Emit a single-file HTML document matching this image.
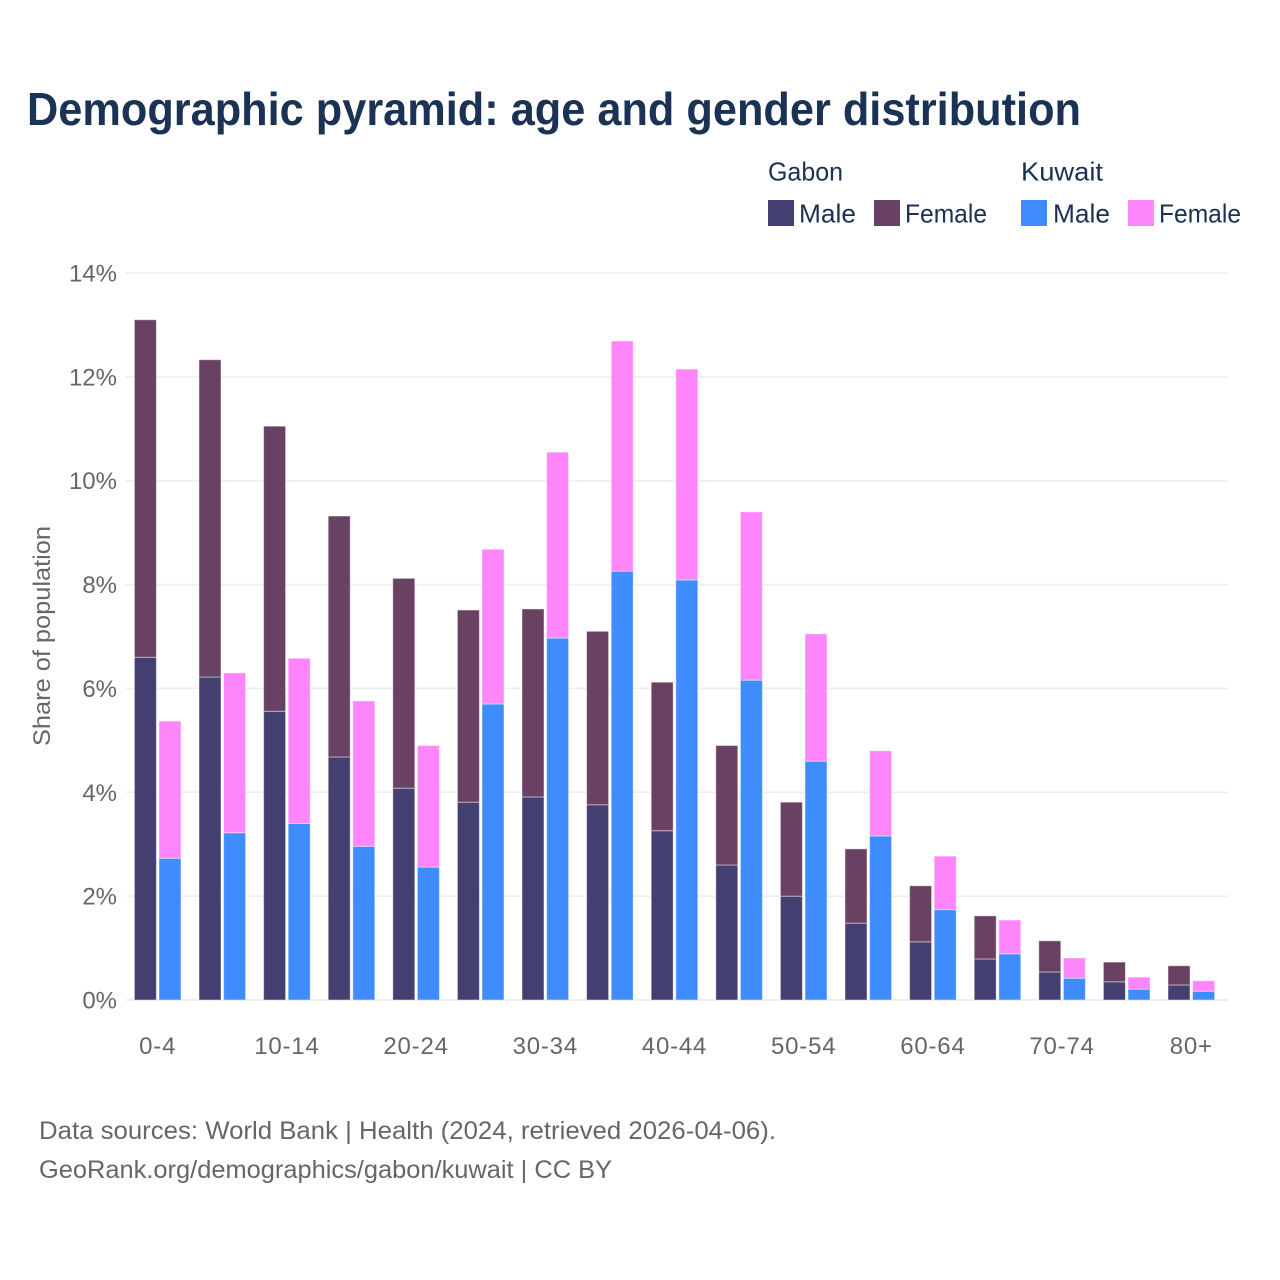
<!DOCTYPE html>
<html lang="en">
<head>
<meta charset="utf-8">
<title>Demographic pyramid: age and gender distribution</title>
<style>
html,body{margin:0;padding:0;background:#fff;}
svg{display:block;font-family:"Liberation Sans",sans-serif;}
</style>
</head>
<body>
<svg id="chart" xmlns="http://www.w3.org/2000/svg" width="1280" height="1280" viewBox="0 0 1280 1280">
  <rect x="0" y="0" width="1280" height="1280" fill="#ffffff"/>
  <text x="27" y="125" font-size="46" font-weight="700" fill="#1a3354" textLength="1054" lengthAdjust="spacingAndGlyphs">Demographic pyramid: age and gender distribution</text>

  <g font-size="26" fill="#1c3152">
    <text x="768" y="180.5" textLength="75" lengthAdjust="spacingAndGlyphs">Gabon</text>
    <text x="1021" y="180.5" textLength="82" lengthAdjust="spacingAndGlyphs">Kuwait</text>
    <rect x="768" y="200" width="26" height="26" fill="#443f71"/>
    <text x="799" y="222.5" textLength="57" lengthAdjust="spacingAndGlyphs">Male</text>
    <rect x="874" y="200" width="26" height="26" fill="#694163"/>
    <text x="905" y="222.5" textLength="82" lengthAdjust="spacingAndGlyphs">Female</text>
    <rect x="1021" y="200" width="26" height="26" fill="#3f8cff"/>
    <text x="1053" y="222.5" textLength="57" lengthAdjust="spacingAndGlyphs">Male</text>
    <rect x="1128" y="200" width="26" height="26" fill="#ff85fb"/>
    <text x="1159" y="222.5" textLength="82" lengthAdjust="spacingAndGlyphs">Female</text>
  </g>

  <g id="grid"></g>
  <g id="bars"></g>
  <g id="y-ticks" font-size="24" fill="#666666" text-anchor="end"></g>
  <g id="x-ticks" font-size="24" fill="#666666" text-anchor="middle" letter-spacing="0.8"></g>

  <text transform="translate(50 746) rotate(-90)" font-size="24" fill="#666666" textLength="220" lengthAdjust="spacingAndGlyphs">Share of population</text>

  <text x="39" y="1139" font-size="25" fill="#666666" textLength="737" lengthAdjust="spacingAndGlyphs">Data sources: World Bank | Health (2024, retrieved 2026-04-06).</text>
  <text x="39" y="1178" font-size="25" fill="#666666" textLength="573" lengthAdjust="spacingAndGlyphs">GeoRank.org/demographics/gabon/kuwait | CC BY</text>
</svg>
<script>
const categories = ["0-4","5-9","10-14","15-19","20-24","25-29","30-34","35-39","40-44","45-49","50-54","55-59","60-64","65-69","70-74","75-79","80+"];
const tickedCategories = ["0-4","10-14","20-24","30-34","40-44","50-54","60-64","70-74","80+"];
const gabonMale = [6.60,6.22,5.56,4.68,4.08,3.81,3.91,3.76,3.26,2.60,2.00,1.48,1.12,0.79,0.54,0.35,0.29];
const gabonFemale = [6.50,6.11,5.49,4.64,4.04,3.70,3.62,3.34,2.86,2.30,1.81,1.43,1.08,0.83,0.60,0.38,0.37];
const kuwaitMale = [2.73,3.22,3.40,2.96,2.56,5.70,6.97,8.26,8.09,6.16,4.60,3.16,1.74,0.89,0.42,0.21,0.17];
const kuwaitFemale = [2.64,3.08,3.18,2.80,2.34,2.98,3.58,4.43,4.06,3.24,2.45,1.64,1.03,0.65,0.39,0.23,0.20];
const yTicks = [0,2,4,6,8,10,12,14];

const SVG_NS = "http://www.w3.org/2000/svg";
const plotLeft = 126, plotRight = 1228, plotBottom = 1000, plotTop = 273;
const yMax = 14;
function yScale(v){ return plotBottom - v * (plotBottom - plotTop) / yMax; }
function xCenter(i){ return 157.7 + i * (1191.3 - 157.7) / (categories.length - 1); }
const barWidth = 22, barGap = 1.3;

const gridG = document.getElementById("grid");
const barsG = document.getElementById("bars");
const yG = document.getElementById("y-ticks");
const xG = document.getElementById("x-ticks");

yTicks.forEach(function(t){
  const line = document.createElementNS(SVG_NS, "line");
  
  
  line.setAttribute("x1", plotLeft);
  line.setAttribute("x2", plotRight);
  line.setAttribute("y1", yScale(t));
  line.setAttribute("y2", yScale(t));
  line.setAttribute("stroke", "#eeeeee");
  line.setAttribute("stroke-width", t === 0 ? 2 : 1.5);
  gridG.appendChild(line);

  const label = document.createElementNS(SVG_NS, "text");
  
  
  label.setAttribute("x", 117);
  label.setAttribute("y", yScale(t) + 8.5);
  label.textContent = t + "%";
  yG.appendChild(label);
});

function drawBar(x, base, value, color, name){
  const r = document.createElementNS(SVG_NS, "rect");
  
  
  const top = yScale(base + value);
  r.setAttribute("x", x);
  r.setAttribute("y", top);
  r.setAttribute("width", barWidth);
  r.setAttribute("height", yScale(base) - top);
  r.setAttribute("fill", color);
  r.setAttribute("stroke", "rgba(255,255,255,0.45)");
  r.setAttribute("stroke-width", 1);
  barsG.appendChild(r);
}

categories.forEach(function(cat, i){
  const c = xCenter(i);
  const xA = c - barGap - barWidth;
  const xB = c + barGap;
  drawBar(xA, 0, gabonMale[i], "#443f71", "bar-gabon-male");
  drawBar(xA, gabonMale[i], gabonFemale[i], "#694163", "bar-gabon-female");
  drawBar(xB, 0, kuwaitMale[i], "#3f8cff", "bar-kuwait-male");
  drawBar(xB, kuwaitMale[i], kuwaitFemale[i], "#ff85fb", "bar-kuwait-female");
  if (tickedCategories.indexOf(cat) !== -1) {
    const label = document.createElementNS(SVG_NS, "text");
    
    
    label.setAttribute("x", c);
    label.setAttribute("y", 1054);
    label.textContent = cat;
    xG.appendChild(label);
  }
});
</script>
</body>
</html>
